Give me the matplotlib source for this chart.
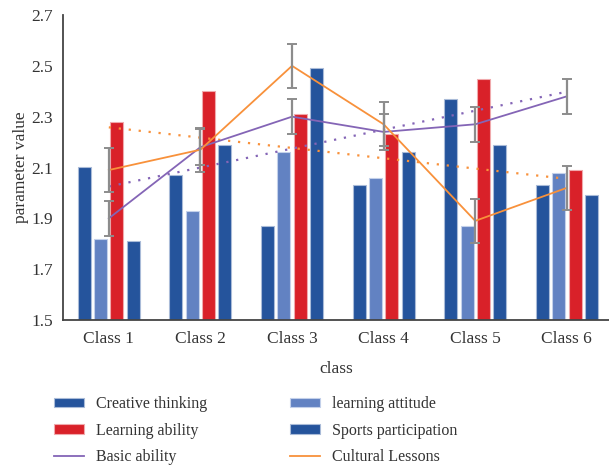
import numpy as np
import matplotlib
matplotlib.use("Agg")
import matplotlib.pyplot as plt
from matplotlib.lines import Line2D

plt.rcParams['font.family'] = ['Liberation Serif', 'DejaVu Serif']

classes = ['Class 1', 'Class 2', 'Class 3', 'Class 4', 'Class 5', 'Class 6']
creative_thinking = [2.10, 2.07, 1.87, 2.03, 2.37, 2.03]
learning_attitude = [1.82, 1.93, 2.16, 2.06, 1.87, 2.08]
learning_ability = [2.28, 2.40, 2.31, 2.23, 2.45, 2.09]
sports_participation = [1.81, 2.19, 2.49, 2.16, 2.19, 1.99]
basic_ability = [1.90, 2.18, 2.30, 2.24, 2.27, 2.38]
cultural_lessons = [2.09, 2.17, 2.50, 2.27, 1.89, 2.02]
basic_err = 0.07
cultural_err = 0.086

dark_blue = '#25549c'
light_blue = '#6282c2'
red = '#d92129'
purple = '#8465b6'
orange = '#f8913b'

fig = plt.figure(figsize=(6.09, 4.68), dpi=100)
ax = fig.add_axes([63 / 609, 148 / 468, 546 / 609, 305 / 468])

x = np.arange(1, len(classes) + 1)
width = 0.142
step = 0.178

bar_series = [
    (creative_thinking, dark_blue, '#a9bbd8', 'Creative thinking'),
    (learning_attitude, light_blue, '#c3d0ea', 'learning attitude'),
    (learning_ability, red, '#f0a9ac', 'Learning ability'),
    (sports_participation, dark_blue, '#a9bbd8', 'Sports participation'),
]
bars = []
for i, (vals, col, edge, name) in enumerate(bar_series):
    b = ax.bar(x + (i - 1.5) * step, np.array(vals) - 1.5, width, bottom=1.5,
               color=col, edgecolor=edge, linewidth=0.8, label=name, zorder=2)
    bars.append(b)

# linear trend lines
for vals, col in [(basic_ability, purple), (cultural_lessons, orange)]:
    k, c = np.polyfit(x, vals, 1)
    ax.plot(x, k * x + c, color=col, linestyle=(0, (1, 3.5)), linewidth=1.6, zorder=3)

ln_basic, = ax.plot(x, basic_ability, color=purple, linewidth=1.3, zorder=4)
ln_cult, = ax.plot(x, cultural_lessons, color=orange, linewidth=1.3, zorder=4)

for vals, err in [(basic_ability, basic_err), (cultural_lessons, cultural_err)]:
    ax.errorbar(x, vals, yerr=err, fmt='none', ecolor='#8c8c8c', elinewidth=1.6,
                capsize=3.5, capthick=1.4, zorder=5)

ax.set_xlim(0.5, 6.46)
ax.set_ylim(1.5, 2.7)
ax.set_yticks(np.arange(1.5, 2.71, 0.2))
ax.set_yticklabels([f'{v:.1f}' for v in np.arange(1.5, 2.71, 0.2)])
ax.set_xticks(x)
ax.set_xticklabels(classes)
ax.tick_params(axis='both', length=0, labelsize=12.5, colors='#333333', pad=8)
ax.tick_params(axis='y', pad=7)
for s in ['top', 'right']:
    ax.spines[s].set_visible(False)
for s in ['left', 'bottom']:
    ax.spines[s].set_color('#444444')
    ax.spines[s].set_linewidth(1.3)

ax.set_xlabel('class', fontsize=12.5, color='#333333', labelpad=10)
ax.set_ylabel('parameter value', fontsize=12.5, color='#333333', labelpad=2)

handles = [bars[0], bars[2], Line2D([], [], color=purple, linewidth=1.3),
           bars[1], bars[3], Line2D([], [], color=orange, linewidth=1.3)]
labels = ['Creative thinking', 'Learning ability', 'Basic ability',
          'learning attitude', 'Sports participation', 'Cultural Lessons']
fig.legend(handles, labels, ncol=2, frameon=False, loc='upper left',
           bbox_to_anchor=(54 / 609, 1 - 396 / 468), borderpad=0, borderaxespad=0,
           fontsize=11.5, handlelength=1.9, handleheight=0.55, handletextpad=0.75,
           columnspacing=5.15, labelspacing=0.66, labelcolor='#333333')

fig.savefig('out.png', dpi=100)
